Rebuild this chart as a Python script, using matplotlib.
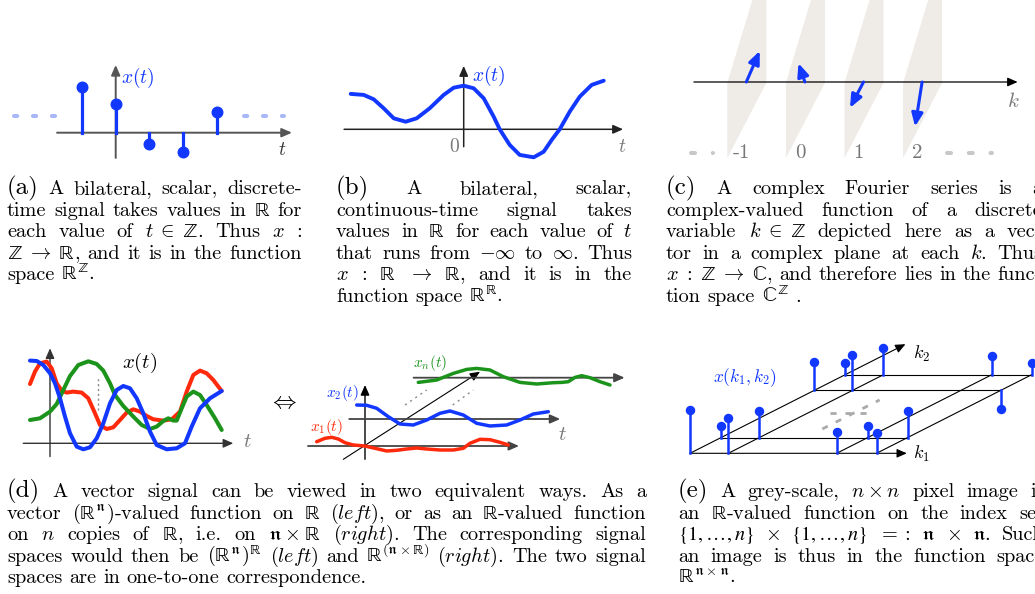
import re
import numpy as np
import matplotlib.pyplot as plt

plt.rcParams['font.family'] = 'cmr10'
plt.rcParams['mathtext.fontset'] = 'cm'
plt.rcParams['axes.unicode_minus'] = False

W, H = 1035, 594
BLUE = '#1238ff'
LBLUE = '#a8b8f6'
RED = '#ff2a0c'
GREEN = '#1c941c'
GREY = '#777777'
AXC = '#555555'
PLANE = '#efebe7'

# (a) discrete-time samples
a_t = [-1, 0, 1, 2, 3]
a_x = [1.62, 1.01, -0.41, -0.70, 0.73]

# (b) continuous-time signal
b_t = [-5.65, -5.0, -4.5, -4.0, -3.5, -2.9, -2.35, -1.7, -1.0, -0.5, 0.0, 0.5, 1.0,
       1.5, 1.8, 2.3, 2.8, 3.5, 4.0, 4.4, 4.8, 5.3, 5.8, 6.4, 7.0]
b_x = [1.77, 1.72, 1.5, 1.05, 0.55, 0.38, 0.55, 1.05, 1.72, 2.08, 2.18, 2.05, 1.55,
       0.63, 0.0, -0.78, -1.28, -1.4, -1.12, -0.53, 0.0, 0.88, 1.63, 2.22, 2.43]

# (c) Fourier coefficients, drawn as (re, im) in the slanted planes
c_k = [-1, 0, 1, 2]
c_re = [0.23, -0.11, -0.23, -0.12]
c_im = [0.53, 0.32, -0.44, -0.76]
c_labels = ['-1', '0', '1', '2']

# (d) left: vector signal, three components
dl_t_blue = [-2, -1.33, -0.67, 0, 0.5, 1, 1.5, 2, 2.67, 3.33, 4, 4.67, 5.33, 6, 6.67, 7.33,
             8, 8.67, 9.33, 10, 10.67, 11.67, 12.67, 13.5, 14.17, 15, 16, 17.17]
dl_blue = [8.27, 8.23, 7.83, 7, 6, 4.5, 2.67, 1, -0.33, -0.6, -0.4, 0.5, 2, 4, 5.33, 5.73,
           5.5, 4.5, 3, 1.17, -0.17, -0.6, -0.5, 0, 1.67, 3.5, 4.5, 5.23]
dl_t_red = [-2, -1.5, -1, -0.33, 0.17, 0.67, 1.17, 1.67, 2.33, 3.17, 3.83, 4.5, 5, 5.67, 6.33,
            7, 7.67, 8.33, 9, 9.67, 10.33, 11.33, 12.17, 13, 13.67, 14.33, 15, 15.67, 16.33, 17.17]
dl_red = [5.93, 7.17, 8, 8.17, 7.5, 6, 5.27, 5.07, 5.17, 5.07, 4.5, 3, 1.83, 1.43, 1.6,
          2.33, 3.07, 3.4, 3.17, 2.73, 2.4, 2.27, 2.4, 3.17, 5.17, 6.83, 7.27, 7, 6.33, 5.23]
dl_t_green = [-2, -1, 0, 0.67, 1.33, 2, 2.83, 3.83, 4.67, 5.33, 6, 6.5, 7.33, 8.33, 9.17, 10,
              10.67, 11.33, 11.83, 12.33, 12.67, 13.17, 13.67, 14.33, 15, 15.67, 16.5, 17.17]
dl_green = [2.33, 2.5, 3.17, 3.93, 5.33, 6.73, 7.83, 8.2, 7.93, 7.27, 6, 4.83, 3.73, 2.67,
            1.83, 1.43, 1.67, 2.23, 2.5, 2.27, 2.27, 3.5, 4.67, 5.17, 4.83, 3.83, 2.5, 1.33]

# (d) right: the same kind of signal as n scalar channels
dr_t1 = [-4.83, -4, -3.33, -2.67, -2, -1.17, 0, 1, 2.17, 3.17, 4.17, 5.17, 6.17, 7.5, 8.83,
         9.83, 10.5, 11.5, 12.5, 13.5, 14.33]
dr_x1 = [0.43, 0.77, 0.87, 0.7, 0.33, 0.1, 0, -0.23, -0.5, -0.43, -0.3, -0.2, -0.3, -0.4,
         -0.4, -0.23, 0.27, 0.67, 0.63, 0.37, 0.1]
dr_t2 = [-4.95, -3.95, -2.95, -1.79, -0.62, 0.71, 2.05, 3.38, 4.38, 5.71, 7.05, 8.38, 10.05,
         11.38, 12.71, 14.21]
dr_x2 = [1.4, 1.37, 1.07, 0.23, -0.5, -0.6, -0.1, 0.57, 0.8, 0.4, -0.43, -0.7, -0.6, -0.1,
         0.5, 0.73]
dr_tn = [-5.23, -3.39, -1.73, -0.39, 0.61, 1.94, 3.27, 4.94, 6.61, 8.27, 9.11, 9.77, 10.44,
         11.11, 11.94, 12.94, 13.94]
dr_xn = [-0.47, -0.23, 0.43, 0.83, 0.93, 0.77, 0.1, -0.47, -0.63, -0.5, -0.47, -0.4, 0.03,
         0.2, 0, -0.4, -0.73]
dr_offsets = [(0, 0), (4.12, 2.7), (10.56, 6.83)]

# (e) pixel values on the n x n grid (rows: k2 index, columns: k1 index)
e_k1 = [0, 1, 3.83, 4.87]
e_k2 = [0, 1, 4, 5]
e_vals = [[4.3, 3.5, 2.1, 2.0],
          [1.2, 2.7, 1.2, 2.7],
          [2.8, 3.5, np.nan, -1.9],
          [1.2, 2.7, 1.9, 1.2]]

# captions, one string per printed line (tokens split on blanks)
cap_a = [r"(a) A bilateral, scalar, discrete-",
         r"time signal takes values in $\mathbb{R}$ for",
         r"each value of $t\;\in\;\mathbb{Z}$. Thus $x$ :",
         r"$\mathbb{Z}\;\to\;\mathbb{R}$, and it is in the function",
         r"space $\mathbb{R}^{\mathbb{Z}}$."]
cap_b = [r"(b) A bilateral, scalar,",
         r"continuous-time signal takes",
         r"values in $\mathbb{R}$ for each value of $t$",
         r"that runs from $-\infty$ to $\infty$. Thus",
         r"$x$ : $\mathbb{R}$ $\to$ $\mathbb{R}$, and it is in the",
         r"function space $\mathbb{R}^{\mathbb{R}}$."]
cap_c = [r"(c) A complex Fourier series is a",
         r"complex-valued function of a discrete",
         r"variable $k\;\in\;\mathbb{Z}$ depicted here as a vec-",
         r"tor in a complex plane at each $k$. Thus",
         r"$x\;:\;\mathbb{Z}\;\to\;\mathbb{C}$, and therefore lies in the func-",
         r"tion space $\mathbb{C}^{\mathbb{Z}}$ ."]
cap_d = [r"(d) A vector signal can be viewed in two equivalent ways. As a",
         r"vector $(\mathbb{R}^{\mathfrak{n}})$-valued function on $\mathbb{R}$ ($\mathit{left}$), or as an $\mathbb{R}$-valued function",
         r"on $n$ copies of $\mathbb{R}$, i.e. on $\mathfrak{n}\:\times\:\mathbb{R}$ ($\mathit{right}$). The corresponding signal",
         r"spaces would then be $(\mathbb{R}^{\mathfrak{n}})^{\mathbb{R}}$ ($\mathit{left}$) and $\mathbb{R}^{(\mathfrak{n}\times\mathbb{R})}$ ($\mathit{right}$). The two signal",
         r"spaces are in one-to-one correspondence."]
cap_e = [r"(e) A grey-scale, $n\:\times\:n$ pixel image is",
         r"an $\mathbb{R}$-valued function on the index set",
         r"$\{1,\ldots,n\}$ $\times$ $\{1,\ldots,n\}$ $=:$ $\mathfrak{n}$ $\times$ $\mathfrak{n}$. Such",
         r"an image is thus in the function space",
         r"$\mathbb{R}^{\mathfrak{n}\times\mathfrak{n}}$."]


fig = plt.figure(figsize=(W / 100, H / 100), dpi=100)
cax = fig.add_axes([0, 0, 1, 1])
cax.set_xlim(0, W)
cax.set_ylim(H, 0)
cax.axis('off')


def panel(box, origin, unit):
    # axes whose data point (0, 0) sits at pixel `origin`
    x0, y0, x1, y1 = box
    ax = fig.add_axes([x0 / W, 1 - y1 / H, (x1 - x0) / W, (y1 - y0) / H])
    ox, oy = origin
    ux, uy = unit
    ax.set_xlim((x0 - ox) / ux, (x1 - ox) / ux)
    ax.set_ylim((oy - y1) / uy, (oy - y0) / uy)
    ax.axis('off')
    return ax


def arrow(ax, p0, p1, color='black', lw=1.0, ms=12, hl=0.5, hw=0.22, z=2):
    ax.annotate('', xy=p1, xytext=p0, annotation_clip=False, zorder=z,
                arrowprops=dict(arrowstyle='-|>,head_length=%g,head_width=%g' % (hl, hw),
                                color=color, lw=lw, mutation_scale=ms,
                                shrinkA=0, shrinkB=0))


# ---------------- (a) ----------------
ax = panel((0, 50, 310, 170), (115.7, 132.7), (33.7, 28))
arrow(ax, (-1.74, 0), (5.23, 0), AXC, 1.4)
arrow(ax, (0, -0.9), (0, 2.42), AXC, 1.4)
for t, v in zip(a_t, a_x):
    ax.plot([t, t], [0, v], color=BLUE, lw=2.3, clip_on=False, zorder=3)
ax.plot(a_t, a_x, 'o', color=BLUE, ms=7.6, clip_on=False, zorder=4)
for s0, s1 in [(-3.02, -1.77), (3.8, 5.0)]:
    ax.plot([s0, s1], [0.61, 0.61], color=LBLUE, lw=2.9, ls=(0, (0.8, 3.9)),
            dash_capstyle='round', clip_on=False)
ax.text(0.17, 1.95, r'$x(t)$', color=BLUE, fontsize=14, va='center', ha='left')
ax.text(4.82, -0.62, r'$t$', color='#333333', fontsize=14, va='center', ha='left')

# ---------------- (b) ----------------
ax = panel((330, 50, 650, 170), (463.7, 129.3), (20, 20))
arrow(ax, (-5.98, 0), (7.97, 0), '#222222', 1.1)
arrow(ax, (0, -0.87), (0, 3.17), '#222222', 1.1)
ax.plot(b_t, b_x, color=BLUE, lw=2.8, clip_on=False, zorder=3,
        solid_joinstyle='round', solid_capstyle='round')
ax.text(0.4, 2.67, r'$x(t)$', color=BLUE, fontsize=14, va='center', ha='left')
ax.text(-0.2, -0.9, r'$0$', color=GREY, fontsize=14, va='center', ha='right')
ax.text(7.7, -0.9, r'$t$', color=GREY, fontsize=14, va='center', ha='left')

# ---------------- (c) ----------------
ax = panel((660, 0, 1035, 170), (804.9, 82), (58.6, 58.6))
plane = np.array([(-0.324, -1.297), (-0.324, -0.017), (0.119, 1.45), (0.341, 1.45),
                  (0.341, -0.017)])
for k in c_k:
    ax.fill(plane[:, 0] + k, plane[:, 1], color=PLANE, lw=0, clip_on=False, zorder=1)
arrow(ax, (-1.894, 0), (3.63, 0), 'black', 0.9, z=2)
for k, re_, im_ in zip(c_k, c_re, c_im):
    arrow(ax, (k, 0), (k + re_, im_), BLUE, 2.2, ms=12, hl=0.65, hw=0.28, z=3)
for k, lab in zip(c_k, c_labels):
    ax.text(k - 0.08, -1.21, lab, color=GREY, fontsize=15, ha='center', va='center')
for s0, s1 in [(-1.95, -1.57), (2.43, 3.2)]:
    ax.plot([s0, s1], [-1.21, -1.21], color='#c8c8c8', lw=2.9, ls=(0, (1.0, 4.4)),
            dash_capstyle='round', clip_on=False)
ax.text(3.45, -0.34, r'$k$', color=GREY, fontsize=15, ha='left', va='center')

# ---------------- (d) left ----------------
ax = panel((10, 335, 260, 470), (50, 443.3), (10, 10))
arrow(ax, (-2.67, 0), (18.33, 0), '#333333', 1.0)
arrow(ax, (0, -1.33), (0, 9.5), '#333333', 1.0)
ax.plot([4.77, 4.77], [3.33, 6.67], color='#888888', lw=1.0, ls=(0, (1.5, 2)))
for tt, vv, col in [(dl_t_red, dl_red, RED), (dl_t_green, dl_green, GREEN),
                    (dl_t_blue, dl_blue, BLUE)]:
    ax.plot(tt, vv, color=col, lw=2.9, clip_on=False, solid_joinstyle='round',
            solid_capstyle='round', zorder=3)
ax.text(7.2, 8.03, r'$x(t)$', fontsize=15, va='center', ha='left')
ax.text(19.3, 0.1, r'$t$', color=GREY, fontsize=15, va='center', ha='left')

cax.text(282.7, 402, r'$\Leftrightarrow$', fontsize=17, ha='center', va='center')

# ---------------- (d) right ----------------
ax = panel((290, 340, 640, 470), (365, 446), (10, 10))
arrow(ax, (-2.17, -1.33), (11.5, 7.43), 'black', 0.8)
arrow(ax, (0, -1.33), (0, 6.1), 'black', 1.0)
for (s0, s1) in [((4.0, 4.1), (6.17, 5.6)), ((8.77, 4.1), (10.83, 5.6))]:
    ax.plot([s0[0], s1[0]], [s0[1], s1[1]], color='#888888', lw=1.0, ls=(0, (1.5, 3)))
chans = [(dr_t1, dr_x1, RED, r'$x_1(t)$', (-5.5, 1.87)),
         (dr_t2, dr_x2, BLUE, r'$x_2(t)$', (-8.0, 2.57)),
         (dr_tn, dr_xn, GREEN, r'$x_n(t)$', (-5.8, 1.44))]
for (tt, vv, col, lab, lpos), (dt, dv) in zip(chans, dr_offsets):
    arrow(ax, (-5.7 + dt, dv), (15.4 + dt, dv), '#444444', 1.3)
    ax.plot(np.array(tt) + dt, np.array(vv) + dv, color=col, lw=2.5, clip_on=False,
            solid_joinstyle='round', solid_capstyle='round', zorder=3)
    ax.text(lpos[0] + dt, lpos[1] + dv, lab, color=col, fontsize=11, ha='left', va='center')
ax.text(19.27, 1.1, r'$t$', color=GREY, fontsize=15, ha='left', va='center')

# ---------------- (e) ----------------
ax = panel((680, 330, 1035, 470), (690, 453.3), (1, 1))
e1 = np.array([38.3, 0.0])
e2 = np.array([31.0, 15.7])


def proj(i, j):
    return i * e1 + j * e2


for j in e_k2[1:]:
    p0, p1 = proj(0, j), proj(e_k1[-1], j)
    ax.plot([p0[0], p1[0]], [p0[1], p1[1]], color='black', lw=0.8, zorder=1)
for i in e_k1[1:]:
    p0, p1 = proj(i, 0), proj(i, e_k2[-1])
    ax.plot([p0[0], p1[0]], [p0[1], p1[1]], color='black', lw=0.8, zorder=1)
arrow(ax, proj(0, 0), proj(5.66, 0), 'black', 0.8)
arrow(ax, proj(0, 0), proj(0, 6.95), 'black', 0.8)
g0, g1 = proj(2.2, 1.55), proj(2.2, 3.4)
ax.plot([g0[0], g1[0]], [g0[1], g1[1]], color='#aaaaaa', lw=2.0, ls=(0, (2.2, 3.2)))
g0, g1 = proj(1.57, 2.57), proj(2.66, 2.57)
ax.plot([g0[0], g1[0]], [g0[1], g1[1]], color='#aaaaaa', lw=2.0, ls=(0, (2.2, 3.2)))
for row, j in zip(e_vals, e_k2):
    for v, i in zip(row, e_k1):
        if np.isnan(v):
            continue
        x, y = proj(i, j)
        ax.plot([x, x], [y, y + v * 10], color=BLUE, lw=1.8, zorder=3, clip_on=False)
        ax.plot([x], [y + v * 10], 'o', color=BLUE, ms=5.8, zorder=4, clip_on=False)
ax.text(23, 75.6, r'$x(k_1,k_2)$', color=BLUE, fontsize=12.5, ha='left', va='center')
ax.text(223.3, 99.3, r'$k_2$', fontsize=13, ha='left', va='center')
ax.text(223, -0.7, r'$k_1$', fontsize=13, ha='left', va='center')

# ---------------- captions (justified like the LaTeX source) ----------------
rend = fig.canvas.get_renderer()


def upright(tok):
    # keep blackboard / fraktur letters upright inside math
    return re.sub(r'\\math(bb|frak)\{(\w)\}', r'\\mathrm{\\math\1{\2}}', tok)


def caption(x0, x1, y, lines, size=14.6, lead=21.6, label_size=18):
    for n, line in enumerate(lines):
        toks = line.split(' ')
        base = y + n * lead
        arts = []
        for tok in toks:
            fs = label_size if re.fullmatch(r'\([a-e]\)', tok) else size
            # the cm braces come out oversized, take them from stix instead
            mf = 'stix' if r'\{' in tok else 'cm'
            arts.append(cax.text(0, base, upright(tok), fontsize=fs, va='baseline',
                                 ha='left', math_fontfamily=mf))
        ws = [a.get_window_extent(rend).width for a in arts]
        if n == len(lines) - 1 or len(arts) == 1:
            gap = 0.333 * size / 0.72
        else:
            gap = (x1 - x0 - sum(ws)) / (len(arts) - 1)
        x = x0
        for a, w in zip(arts, ws):
            a.set_x(x)
            x += w + gap


caption(7, 302, 194, cap_a)
caption(336, 632, 194, cap_b)
caption(666, 1042, 194, cap_c)
caption(7, 646, 497, cap_d)
caption(678, 1044, 497, cap_e)

fig.savefig('out.png', dpi=100)
